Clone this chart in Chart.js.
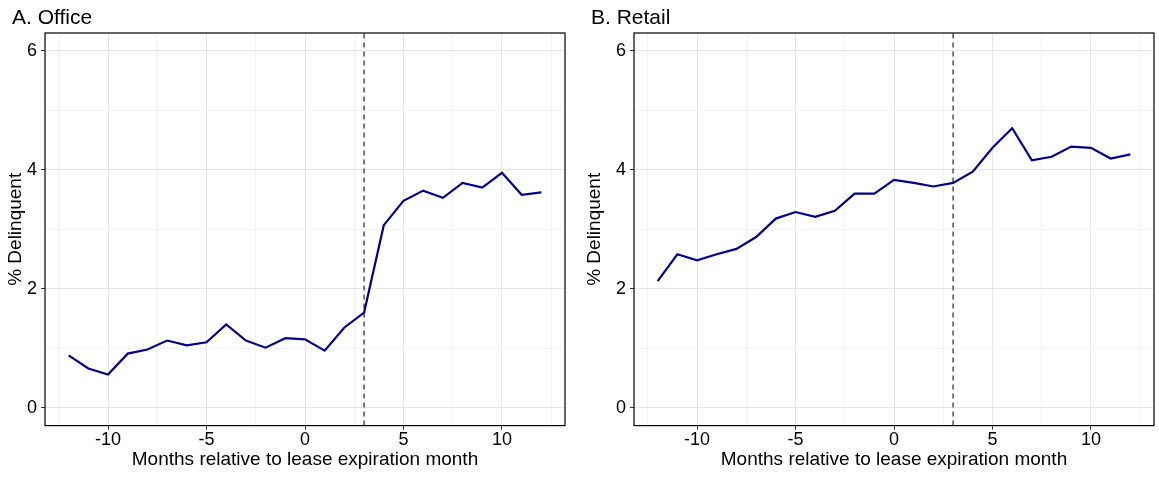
<!DOCTYPE html>
<html><head><meta charset="utf-8">
<script src="https://cdn.jsdelivr.net/npm/chart.js@4/dist/chart.umd.min.js"></script>
<style>
body{margin:0;background:#fff;font-family:"Liberation Sans",Arial,sans-serif}
.wrap{position:absolute;top:0;height:477px}
</style></head><body>
<div class="wrap" style="left:0;width:579px"><canvas id="c1"></canvas></div>
<div class="wrap" style="left:579px;width:580px"><canvas id="c2"></canvas></div>
<script>
var months = [-12,-11,-10,-9,-8,-7,-6,-5,-4,-3,-2,-1,0,1,2,3,4,5,6,7,8,9,10,11,12];
var office = [0.88,0.66,0.56,0.91,0.98,1.13,1.05,1.10,1.40,1.13,1.01,1.17,1.15,0.96,1.35,1.60,3.07,3.48,3.65,3.53,3.78,3.70,3.95,3.58,3.62];
var retail = [2.13,2.58,2.48,2.58,2.67,2.87,3.18,3.29,3.21,3.31,3.60,3.60,3.83,3.78,3.72,3.78,3.97,4.37,4.70,4.16,4.22,4.39,4.37,4.19,4.26];
var expiry = 3;
var yTicks = [0,2,4,6];
var xTicks = [-10,-5,0,5,10];

var border = {
  id:'border',
  afterDraw:function(ch){
    var a = ch.chartArea, c = ch.ctx;
    c.save(); c.strokeStyle='#000'; c.lineWidth=1.2;
    c.strokeRect(a.left,a.top,a.right-a.left,a.bottom-a.top);
    c.fillStyle='#000'; c.font='21px "Liberation Sans"'; c.textBaseline='alphabetic';
    c.fillText(ch.options.panelTitle, 12, 24);
    c.restore();
  }
};

function make(id, title, vals, yw, padR){
  new Chart(document.getElementById(id), {
    type:'line',
    data:{datasets:[
      {data:months.map(function(m,i){return {x:m,y:vals[i]};}), borderColor:'#00008b', borderWidth:2.2, pointRadius:0, tension:0},
      {data:[{x:expiry,y:-0.3},{x:expiry,y:6.3}], borderColor:'#444', borderWidth:1.4, borderDash:[5,4], pointRadius:0}
    ]},
    options:{
      panelTitle:title,
      responsive:false, animation:false,
      layout:{padding:{left:0,right:padR,top:33,bottom:6}},
      plugins:{legend:{display:false}, tooltip:{enabled:false}, title:{display:false}},
      scales:{
        x:{type:'linear', min:-13.2, max:13.2,
          afterBuildTicks:function(s){s.ticks=[-12.5,-10,-7.5,-5,-2.5,0,2.5,5,7.5,10,12.5].map(function(v){return {value:v};});},
          ticks:{color:'#000', font:{size:18,family:'Liberation Sans'}, autoSkip:false, maxRotation:0, padding:0,
            callback:function(v){return xTicks.indexOf(v)>=0 ? String(v) : '';}},
          grid:{color:function(c){return xTicks.indexOf(c.tick.value)>=0?'#e6e6e6':'#f3f3f3';}, drawTicks:true, tickLength:4, tickColor:function(c){return xTicks.indexOf(c.tick.value)>=0?'#333':'rgba(0,0,0,0)';}},
          border:{display:false},
          title:{display:true, text:'Months relative to lease expiration month', color:'#000', font:{size:19,family:'Liberation Sans'}, padding:{top:-3,bottom:0}}},
        y:{min:-0.3, max:6.3,
          afterBuildTicks:function(s){s.ticks=[0,1,2,3,4,5,6].map(function(v){return {value:v};});},
          afterFit:function(s){s.width=yw;},
          ticks:{color:'#000', font:{size:18,family:'Liberation Sans'}, padding:4,
            callback:function(v){return yTicks.indexOf(v)>=0 ? String(v) : '';}},
          grid:{color:function(c){return yTicks.indexOf(c.tick.value)>=0?'#e6e6e6':'#f3f3f3';}, tickLength:4, tickColor:function(c){return yTicks.indexOf(c.tick.value)>=0?'#333':'rgba(0,0,0,0)';}},
          border:{display:false},
          title:{display:true, text:'% Delinquent', color:'#000', font:{size:19,family:'Liberation Sans'}, padding:{bottom:2}}}
      }
    },
    plugins:[border]
  });
}
var c1=document.getElementById('c1'); c1.width=579; c1.height=477;
var c2=document.getElementById('c2'); c2.width=580; c2.height=477;
make('c1','A. Office',office,45,14);
make('c2','B. Retail',retail,55,5);
</script></body></html>
